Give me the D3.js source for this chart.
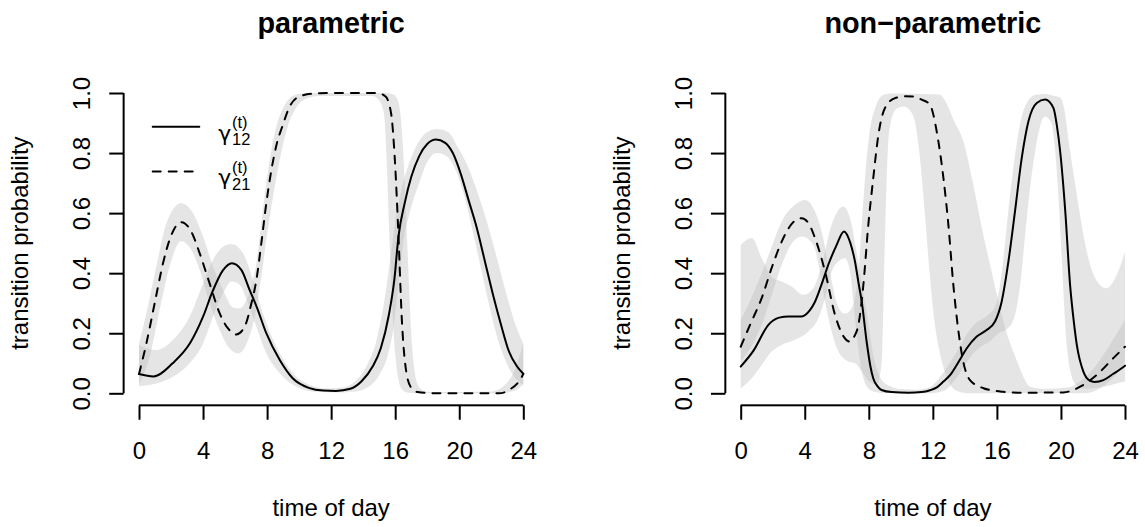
<!DOCTYPE html>
<html>
<head>
<meta charset="utf-8">
<script src="https://cdn.jsdelivr.net/npm/d3@7"></script>
<style>
  html, body { margin: 0; padding: 0; background: #fff; }
  svg { display: block; }
</style>
</head>
<body>
<svg id="chart" width="1145" height="527"></svg>
<script>
// ---------------- data ----------------
const panelTitles = ["parametric", "non\u2212parametric"];
const xTickValues = [0, 4, 8, 12, 16, 20, 24];
const yTickValues = [0, 0.2, 0.4, 0.6, 0.8, 1.0];
const xLabel = "time of day";
const yLabel = "transition probability";
const legendSubs = ["12", "21"];

// parametric fit: gamma_12 (solid) and gamma_21 (dashed), [hour, probability]
const par12 = [[0,0.064],[0.9,0.056],[2.1,0.1],[3.2,0.168],[4.0,0.255],[4.6,0.34],[5.25,0.41],[5.8,0.433],
  [6.4,0.41],[6.9,0.345],[7.35,0.288],[7.95,0.2],[8.8,0.11],[9.6,0.05],[10.6,0.018],[11.5,0.009],[12.3,0.008],
  [13.2,0.015],[13.9,0.04],[14.6,0.09],[15.1,0.15],[15.6,0.26],[15.95,0.38],[16.2,0.52],[16.6,0.635],[17.0,0.72],
  [17.5,0.79],[18.0,0.83],[18.55,0.845],[19.1,0.835],[19.6,0.8],[20.1,0.73],[20.6,0.64],[21.1,0.55],[21.6,0.44],
  [22.1,0.33],[22.6,0.23],[23.1,0.14],[23.6,0.09],[24,0.065]];
const par12Hi = [[0,0.161],[1.08,0.144],[2.12,0.178],[3.16,0.255],[4.0,0.366],[4.62,0.444],[5.25,0.488],[5.77,0.497],
  [6.5,0.466],[7.12,0.377],[7.74,0.266],[8.58,0.155],[9.62,0.067],[10.66,0.028],[11.8,0.016],[12.8,0.02],[13.5,0.04],
  [14.2,0.09],[14.8,0.17],[15.3,0.3],[15.7,0.45],[16.0,0.57],[16.4,0.68],[16.9,0.77],[17.5,0.84],[18.0,0.87],
  [18.6,0.88],[19.3,0.87],[19.9,0.82],[20.5,0.76],[21.0,0.69],[21.5,0.61],[22.0,0.52],[22.5,0.42],[23.0,0.32],
  [23.5,0.23],[24,0.165]];
const par12Lo = [[0,0.024],[1.08,0.033],[2.12,0.055],[3.16,0.1],[4.0,0.166],[4.62,0.255],[5.25,0.333],[5.77,0.372],
  [6.29,0.361],[6.81,0.3],[7.33,0.222],[7.95,0.133],[8.79,0.067],[9.83,0.022],[11.08,0.005],[12.5,0.003],[13.5,0.006],
  [14.3,0.02],[15.0,0.06],[15.5,0.12],[15.9,0.22],[16.2,0.36],[16.5,0.5],[16.9,0.6],[17.5,0.7],[18.0,0.77],[18.6,0.8],
  [19.2,0.79],[19.8,0.74],[20.3,0.66],[20.8,0.55],[21.3,0.43],[21.8,0.31],[22.3,0.2],[22.8,0.12],[23.3,0.065],
  [23.7,0.04],[24,0.026]];
const par21 = [[0,0.064],[0.46,0.166],[0.98,0.3],[1.5,0.433],[2.02,0.527],[2.64,0.57],[3.27,0.538],[3.79,0.466],
  [4.41,0.366],[5.04,0.266],[5.56,0.216],[6.08,0.196],[6.6,0.222],[7.02,0.3],[7.33,0.377],[7.64,0.5],[7.95,0.633],
  [8.27,0.744],[8.6,0.83],[8.96,0.89],[9.4,0.954],[10.0,0.988],[10.9,0.998],[12,1],[14.9,1],[15.4,0.988],
  [15.75,0.93],[15.98,0.776],[16.2,0.53],[16.42,0.24],[16.65,0.087],[16.98,0.02],[17.4,0.004],[18.5,0],[22.5,0],
  [23.2,0.014],[23.76,0.042],[24,0.064]];
const par21Hi = [[0,0.166],[0.46,0.266],[1.08,0.422],[1.71,0.566],[2.64,0.633],[3.37,0.6],[4.0,0.522],[4.62,0.422],
  [5.25,0.344],[5.9,0.285],[6.3,0.283],[6.7,0.31],[7.12,0.377],[7.33,0.433],[7.64,0.566],[7.95,0.7],[8.3,0.82],
  [8.7,0.91],[9.1,0.96],[9.6,0.99],[10.3,0.999],[11,1],[15.5,1],[15.9,0.995],[16.2,0.97],[16.45,0.85],[16.75,0.5],
  [17.0,0.2],[17.25,0.06],[17.5,0.02],[17.9,0.006],[18.5,0.004],[22,0.006],[22.8,0.025],[23.4,0.07],[24,0.166]];
const par21Lo = [[0,0.033],[0.67,0.122],[1.29,0.277],[1.91,0.422],[2.64,0.506],[3.27,0.477],[3.79,0.411],[4.41,0.3],
  [5.04,0.211],[5.66,0.149],[6.18,0.133],[6.81,0.177],[7.23,0.255],[7.64,0.388],[7.95,0.511],[8.37,0.655],[8.8,0.78],
  [9.3,0.89],[9.8,0.95],[10.4,0.98],[11.2,0.99],[14.6,0.99],[15.0,0.975],[15.3,0.93],[15.45,0.8],[15.62,0.55],
  [15.85,0.25],[16.1,0.08],[16.4,0.015],[16.8,0.002],[18,0],[22.5,0],[23.2,0.005],[23.7,0.015],[24,0.033]];

// non-parametric fit: gamma_12 (solid) and gamma_21 (dashed)
const np12 = [[0,0.089],[0.8,0.142],[1.73,0.228],[2.4,0.252],[3.0,0.256],[3.81,0.256],[4.3,0.275],[4.64,0.305],
  [5.1,0.37],[5.47,0.428],[5.96,0.49],[6.45,0.539],[6.85,0.5],[7.14,0.438],[7.35,0.37],[7.56,0.305],[7.87,0.17],
  [8.1,0.09],[8.28,0.049],[8.6,0.02],[8.8,0.011],[9.43,0.004],[10.5,0.002],[11.3,0.004],[11.82,0.01],[12.25,0.02],
  [12.66,0.039],[13.1,0.062],[13.49,0.094],[13.8,0.122],[14.12,0.15],[14.74,0.189],[15.36,0.211],[15.88,0.239],
  [16.3,0.306],[16.72,0.439],[17.13,0.606],[17.55,0.783],[17.97,0.906],[18.49,0.967],[19.01,0.978],[19.53,0.95],
  [19.75,0.89],[19.95,0.806],[20.27,0.606],[20.57,0.361],[20.8,0.24],[20.99,0.161],[21.4,0.072],[21.8,0.042],
  [22.1,0.038],[22.65,0.044],[23.27,0.065],[23.7,0.08],[24,0.092]];
const np12Hi = [[0,0.494],[0.69,0.517],[1.31,0.45],[1.93,0.389],[2.56,0.372],[3.18,0.356],[3.91,0.328],[4.54,0.35],
  [5.06,0.428],[5.68,0.561],[6.41,0.622],[6.93,0.561],[7.2,0.48],[7.45,0.4],[7.7,0.32],[7.95,0.24],[8.2,0.15],
  [8.45,0.09],[8.8,0.045],[9.4,0.022],[10,0.014],[11,0.012],[11.8,0.02],[12.6,0.065],[13.4,0.13],[14.1,0.195],
  [14.7,0.235],[15.3,0.255],[15.9,0.29],[16.3,0.4],[16.7,0.6],[17.1,0.78],[17.5,0.91],[17.9,0.97],[18.4,0.994],
  [19.0,0.997],[19.6,0.99],[19.95,0.985],[20.15,0.96],[20.57,0.806],[20.99,0.661],[21.4,0.528],[21.82,0.428],
  [22.44,0.361],[22.86,0.35],[23.38,0.383],[24,0.47]];
const np12Lo = [[0,0.016],[0.69,0.05],[1.31,0.094],[1.93,0.139],[2.56,0.161],[3.39,0.178],[4.22,0.206],[4.85,0.25],
  [5.27,0.317],[5.68,0.405],[6.1,0.439],[6.51,0.45],[6.83,0.405],[7.04,0.305],[7.25,0.19],[7.5,0.09],[7.8,0.03],
  [8.2,0.008],[9,0.001],[11.5,0],[12.3,0.003],[12.9,0.015],[13.4,0.045],[13.9,0.085],[14.4,0.125],[15.0,0.155],
  [15.6,0.175],[16.1,0.2],[16.5,0.21],[17.0,0.24],[17.45,0.36],[17.86,0.58],[18.4,0.81],[19.0,0.922],[19.4,0.9],
  [19.65,0.8],[19.85,0.65],[20.05,0.45],[20.3,0.2],[20.6,0.07],[21.0,0.025],[21.5,0.015],[22.5,0.02],[23.3,0.03],
  [24,0.04]];
const np21 = [[0,0.155],[0.6,0.23],[1.31,0.317],[1.95,0.42],[2.56,0.505],[3.2,0.565],[3.81,0.583],[4.25,0.565],
  [4.64,0.517],[5.27,0.405],[5.89,0.261],[6.31,0.2],[6.83,0.172],[7.1,0.19],[7.35,0.228],[7.66,0.361],[7.97,0.561],
  [8.28,0.717],[8.6,0.861],[9.01,0.95],[9.64,0.983],[10.26,0.989],[10.8,0.988],[11.3,0.978],[11.82,0.961],
  [12.03,0.928],[12.24,0.872],[12.66,0.717],[12.97,0.561],[13.28,0.361],[13.6,0.206],[13.9,0.105],[14.32,0.044],
  [15.16,0.017],[16.4,0.005],[17.5,0.002],[20.15,0.003],[21.2,0.022],[22.23,0.061],[23.27,0.117],[24,0.155]];
const np21Hi = [[0,0.245],[0.6,0.31],[1.31,0.4],[1.95,0.49],[2.56,0.572],[3.39,0.628],[4.01,0.644],[4.64,0.606],
  [5.1,0.53],[5.4,0.45],[5.7,0.37],[6.0,0.3],[6.5,0.265],[7.0,0.29],[7.3,0.38],[7.55,0.55],[7.8,0.74],[8.05,0.87],
  [8.4,0.95],[8.8,0.99],[9.3,0.998],[12.4,0.995],[12.9,0.96],[13.3,0.91],[13.9,0.84],[14.53,0.694],[15.15,0.528],
  [15.67,0.406],[16.3,0.261],[16.8,0.17],[17.23,0.111],[17.7,0.05],[18.07,0.022],[19,0.015],[20.5,0.02],[21.2,0.04],
  [22,0.08],[22.8,0.14],[23.5,0.2],[24,0.245]];
const np21Lo = [[0,0.106],[0.6,0.15],[1.31,0.228],[1.95,0.33],[2.56,0.428],[3.2,0.5],[3.81,0.522],[4.54,0.494],
  [4.95,0.405],[5.27,0.305],[5.68,0.206],[6.1,0.139],[6.72,0.106],[7.14,0.1],[7.6,0.07],[8.0,0.04],[8.5,0.03],
  [8.8,0.1],[9.0,0.5],[9.2,0.82],[9.45,0.92],[9.8,0.95],[10.2,0.955],[10.6,0.94],[10.9,0.9],[11.2,0.78],[11.5,0.6],
  [11.8,0.4],[12.1,0.24],[12.5,0.12],[12.9,0.05],[13.3,0.015],[13.8,0.003],[14.5,0],[21.5,0],[22.2,0.01],
  [22.8,0.03],[23.4,0.06],[24,0.106]];

// ---------------- layout ----------------
const FONT = '"Liberation Sans", Arial, Helvetica, sans-serif';
const LW = 2;           // line width of curves and axes
const TICK = 14.4;      // axis tick length

const panels = [
  { title: panelTitles[0], x0: 139, x1: 523.3, legend: true,
    bands: [[par12Hi, par12Lo], [par21Hi, par21Lo]],
    lines: [{ d: par12, dash: null }, { d: par21, dash: "8,8" }] },
  { title: panelTitles[1], x0: 740.7, x1: 1125, legend: false,
    bands: [[np12Hi, np12Lo], [np21Hi, np21Lo]],
    lines: [{ d: np12, dash: null }, { d: np21, dash: "8,8" }] }
];

const svg = d3.select("#chart");
svg.append("rect").attr("width", 1145).attr("height", 527).attr("fill", "#fff");

const y = d3.scaleLinear().domain([0, 1]).range([393.3, 93]);
const spines = [];

panels.forEach(p => {
  const x = d3.scaleLinear().domain([0, 24]).range([p.x0, p.x1]);
  const ext = (p.x1 - p.x0) * 0.04;            // 4% padding around the data range
  const left = p.x0 - ext, right = p.x1 + ext;
  const bottom = y(0) + (y(0) - y(1)) * 0.04;
  const top = y(1) - (y(0) - y(1)) * 0.04;
  const cx = (left + right) / 2;
  const shift = p.x0 - 139;                   // horizontal offset of this panel
  const g = svg.append("g");

  const lineGen = d3.line().x(d => x(d[0])).y(d => y(d[1])).curve(d3.curveMonotoneX);

  // confidence bands: upper edge forward, lower edge back
  p.bands.forEach(([hi, lo]) => {
    const a = lineGen(hi);
    const b = lineGen(lo.slice().reverse());
    g.append("path")
      .attr("d", a + "L" + b.slice(1) + "Z")
      .attr("fill", "#bebebe")
      .attr("fill-opacity", 0.4)
      .attr("stroke", "none");
  });

  // point estimates
  p.lines.forEach(l => {
    g.append("path")
      .attr("d", lineGen(l.d))
      .attr("fill", "none")
      .attr("stroke", "#000")
      .attr("stroke-width", LW)
      .attr("stroke-linecap", "round")
      .attr("stroke-linejoin", "round")
      .attr("stroke-dasharray", l.dash);
  });

  // x axis
  const xAxis = g.append("g")
    .attr("transform", `translate(0,${bottom})`)
    .call(d3.axisBottom(x).tickValues(xTickValues).tickSize(TICK).tickSizeOuter(0).tickFormat(d3.format("d")));
  xAxis.select(".domain").remove();
  xAxis.selectAll("line").attr("stroke", "#000").attr("stroke-width", LW);
  xAxis.selectAll("text")
    .attr("y", 53.7).attr("dy", 0)
    .attr("fill", "#000")
    .style("font-family", FONT).style("font-size", "24px");

  // y axis with vertical labels
  const yAxis = g.append("g")
    .attr("transform", `translate(${left},0)`)
    .call(d3.axisLeft(y).tickValues(yTickValues).tickSize(TICK).tickSizeOuter(0).tickFormat(d3.format(".1f")));
  yAxis.select(".domain").remove();
  yAxis.selectAll("line").attr("stroke", "#000").attr("stroke-width", LW);
  yAxis.selectAll("text")
    .attr("x", 0).attr("dy", 0)
    .attr("transform", `translate(${90 + shift - left},0) rotate(-90)`)
    .attr("text-anchor", "middle")
    .attr("fill", "#000")
    .style("font-family", FONT).style("font-size", "24px");

  // axis spines spanning the tick range
  spines.push({ x: x(xTickValues[0]), y: bottom - LW / 2,
                w: x(xTickValues[xTickValues.length - 1]) - x(xTickValues[0]), h: LW });
  spines.push({ x: left - LW / 2, y: y(yTickValues[yTickValues.length - 1]),
                w: LW, h: y(yTickValues[0]) - y(yTickValues[yTickValues.length - 1]) });

  // titles
  g.append("text")
    .attr("x", cx).attr("y", 32.5)
    .attr("text-anchor", "middle")
    .style("font-family", FONT).style("font-size", "28.8px").style("font-weight", "bold")
    .text(p.title);
  g.append("text")
    .attr("x", cx).attr("y", 516)
    .attr("text-anchor", "middle")
    .style("font-family", FONT).style("font-size", "24px")
    .text(xLabel);
  g.append("text")
    .attr("transform", `translate(${28 + shift},${(top + bottom) / 2}) rotate(-90)`)
    .attr("text-anchor", "middle")
    .style("font-family", FONT).style("font-size", "24px")
    .text(yLabel);

  // legend
  if (p.legend) {
    legendSubs.forEach((sub, i) => {
      const ly = 126.7 + i * 44.8;
      g.append("line")
        .attr("x1", 152.7).attr("x2", 199.3)
        .attr("y1", ly).attr("y2", ly)
        .attr("stroke", "#000").attr("stroke-width", LW)
        .attr("stroke-linecap", "round")
        .attr("stroke-dasharray", p.lines[i].dash);
      g.append("text")
        .attr("x", 218.3).attr("y", ly + 13.8)
        .style("font-family", '"DejaVu Sans", sans-serif').style("font-size", "22px")
        .text("\u03B3");
      g.append("text")
        .attr("x", 232).attr("y", ly + 1.6)
        .style("font-family", FONT).style("font-size", "16.5px")
        .text("(t)");
      g.append("text")
        .attr("x", 232).attr("y", ly + 18.3)
        .style("font-family", FONT).style("font-size", "16.5px")
        .text(sub);
    });
  }
});

// spines as filled strips, on top of everything
svg.append("g").selectAll("rect")
  .data(spines)
  .join("rect")
  .attr("x", d => d.x).attr("y", d => d.y)
  .attr("width", d => d.w).attr("height", d => d.h)
  .attr("fill", "#000");
</script>
</body>
</html>
